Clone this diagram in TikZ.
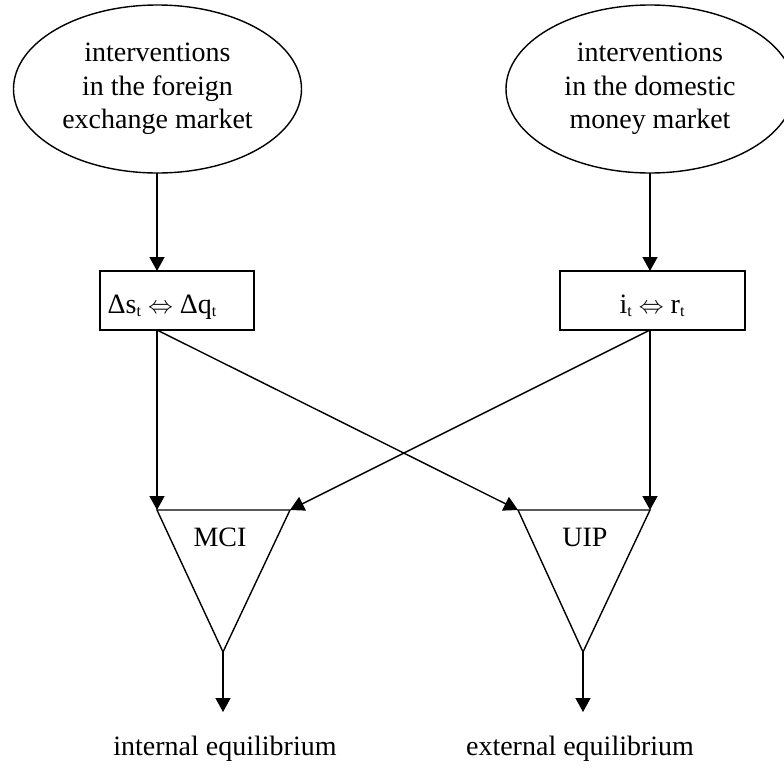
\documentclass[tikz,border=0pt]{standalone}
\usepackage{fontspec}
\setmainfont{Liberation Serif}
\usetikzlibrary{arrows.meta,shapes.geometric}
\newcommand\subt[1]{\raisebox{-0.12em}{\fontsize{16}{16}\selectfont #1}}
\begin{document}
\begin{tikzpicture}[x=1pt,y=-1pt,line width=1.4pt,
  txt/.style={font=\fontsize{28}{33.5}\selectfont,align=center,inner sep=0pt},
  oval/.style={draw,ellipse,minimum width=288pt,minimum height=168pt,inner sep=0pt,txt},
  rbox/.style={draw,rectangle,minimum height=59pt,inner sep=0pt},
  arr/.style={-{Triangle[length=14pt,width=15pt]}}]
\clip (0,0) rectangle (784,769);
\node[oval] (e1) at (157.5,89) {interventions\\in the foreign\\exchange market};
\node[oval] (e2) at (650,89) {interventions\\in the domestic\\money market};
\node[rbox,minimum width=154pt] (b1) at (177,300.5) {};
\node[rbox,minimum width=185pt] (b2) at (652.5,300.5) {};
\node[txt,anchor=base] (t1) at (162,313) {Δs\subt{t} $\Leftrightarrow$ Δq\subt{t}};
\node[txt,anchor=base] (t2) at (652,313) {i\subt{t} $\Leftrightarrow$ r\subt{t}};
% triangles
\coordinate (m1) at (157,510); \coordinate (m2) at (290,510); \coordinate (m3) at (223,652);
\coordinate (u1) at (518,510); \coordinate (u2) at (650,510); \coordinate (u3) at (583,652);
\draw (m1) -- (m2) -- (m3) -- cycle;
\draw (u1) -- (u2) -- (u3) -- cycle;
\node[txt,anchor=base] (mci) at (220,546) {MCI};
\node[txt,anchor=base] (uip) at (585,546) {UIP};
\coordinate (b1s) at (157,330); \coordinate (b2s) at (650,330);
\coordinate (e1s) at (157,173); \coordinate (e2s) at (650,173);
\coordinate (b1n) at (157,271); \coordinate (b2n) at (650,271);
\draw[arr] (e1s) -- (b1n);
\draw[arr] (e2s) -- (b2n);
\draw[arr] (b1s) -- (m1);
\draw[arr] (b2s) -- (u2);
\draw[arr] (b1s) -- (u1);
\draw[arr] (b2s) -- (m2);
\node[txt,anchor=base] (ie) at (225,755) {internal equilibrium};
\node[txt,anchor=base] (ee) at (580,755) {external equilibrium};
\coordinate (ie0) at (223,712); \coordinate (ee0) at (583,712);
\draw[arr] (m3) -- (ie0);
\draw[arr] (u3) -- (ee0);
\end{tikzpicture}
\end{document}
